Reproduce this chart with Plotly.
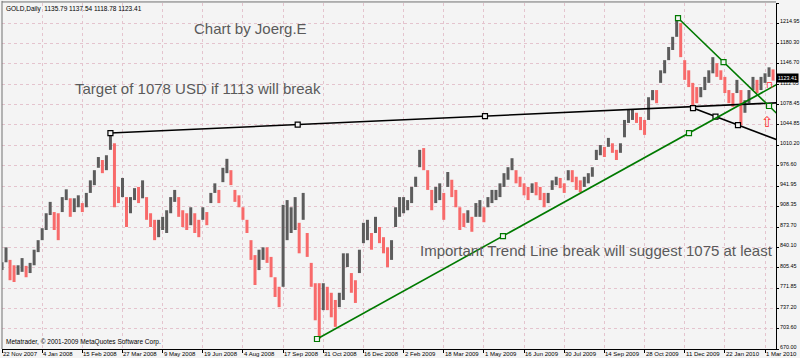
import plotly.graph_objects as go

# ---------------- data ----------------
# one sample per 3 trading sessions, starting 22 Nov 2007
highs = [815, 840, 819, 810, 810, 822, 809, 814, 836, 852,
         872, 897, 916, 899, 897, 924, 937, 922, 922, 927,
         914, 931, 952, 969, 991, 986, 994, 1031, 1014, 941,
         956, 924, 924, 939, 941, 952, 924, 897, 886, 886,
         891, 902, 924, 936, 924, 902, 897, 907, 897, 886,
         907, 899, 931, 947, 936, 973, 988, 969, 936, 927,
         907, 886, 852, 827, 836, 840, 840, 824, 790, 774,
         911, 919, 907, 924, 881, 931, 864, 814, 780, 780,
         780, 774, 764, 752, 764, 830, 830, 797, 785, 836,
         881, 886, 864, 891, 874, 857, 840, 852, 907, 924,
         924, 919, 941, 958, 1003, 1006, 969, 936, 941, 947,
         931, 966, 953, 936, 907, 897, 902, 891, 914, 919,
         907, 924, 936, 936, 947, 964, 974, 989, 969, 958,
         947, 941, 947, 949, 941, 931, 931, 952, 958, 956,
         947, 969, 969, 958, 952, 958, 964, 974, 1003, 1011,
         1008, 1023, 1014, 1003, 1014, 1053, 1070, 1070, 1065, 1058,
         1053, 1091, 1103, 1103, 1136, 1153, 1175, 1192, 1222, 1215,
         1153, 1136, 1115, 1108, 1108, 1125, 1136, 1158, 1148, 1136,
         1125, 1103, 1098, 1120, 1103, 1086, 1103, 1125, 1120, 1125,
         1131, 1141, 1137.54]
lows = [802, 815, 785, 782, 794, 799, 790, 797, 810, 832,
        852, 869, 894, 869, 852, 899, 919, 891, 899, 907,
        899, 907, 931, 944, 973, 964, 969, 1003, 907, 914,
        924, 874, 897, 919, 914, 922, 886, 874, 852, 857,
        869, 864, 897, 916, 891, 874, 869, 877, 864, 857,
        886, 877, 914, 931, 914, 949, 964, 944, 916, 907,
        886, 864, 819, 777, 802, 819, 814, 790, 757, 740,
        774, 852, 864, 869, 830, 886, 824, 774, 718, 687,
        735, 735, 723, 707, 740, 752, 807, 764, 747, 797,
        847, 852, 836, 864, 847, 830, 807, 819, 874, 891,
        897, 902, 914, 941, 974, 969, 936, 902, 914, 919,
        886, 941, 924, 907, 869, 874, 881, 866, 891, 891,
        882, 907, 914, 919, 924, 941, 953, 969, 947, 941,
        927, 919, 931, 927, 919, 907, 914, 936, 944, 939,
        931, 952, 949, 936, 932, 941, 947, 958, 986, 994,
        991, 1008, 998, 986, 998, 1024, 1048, 1053, 1048, 1036,
        1028, 1053, 1086, 1081, 1115, 1131, 1153, 1170, 1192, 1158,
        1120, 1108, 1075, 1081, 1091, 1103, 1115, 1131, 1125, 1120,
        1098, 1081, 1075, 1098, 1044, 1065, 1081, 1103, 1098, 1103,
        1115, 1125, 1118.78]
DAY_STEP = 3

date_labels = ["22 Nov 2007", "4 Jan 2008", "15 Feb 2008", "27 Mar 2008", "9 May 2008",
               "19 Jun 2008", "4 Aug 2008", "17 Sep 2008", "31 Oct 2008", "16 Dec 2008",
               "2 Feb 2009", "18 Mar 2009", "1 May 2009", "16 Jun 2009", "30 Jul 2009",
               "14 Sep 2009", "28 Oct 2009", "11 Dec 2009", "22 Jan 2010", "1 Mar 2010"]
LABEL_STEP = 30  # sessions between date labels

price_ticks = [670.00, 703.60, 737.20, 771.85, 805.45, 840.10, 873.70, 908.35, 941.95,
               976.60, 1010.20, 1044.85, 1078.45, 1112.05, 1146.70, 1180.30, 1214.95, 1248.55]

header_ohlc = [1135.79, 1137.54, 1118.78, 1123.41]
last_price = 1123.41

# trend lines: two anchors (session index, price)
black_main_days = [81, 360.8]
black_main_prices = [1031.1, 1059.5]
green_up_days = [235.3, 513.2]
green_up_prices = [686.7, 1031.1]
green_down_days = [505, 573]
green_down_prices = [1223.4, 1076.3]
black_down_days = [516.2, 549.8]
black_down_prices = [1072.9, 1044.5]

# ---------------- figure ----------------
X_MAX = 578.2
Y_MIN, Y_MAX = 670.0, 1248.55
RED = "#f86a6a"
GREY = "#5c5c5c"
GRID = "#e4c4ce"
TXT = "#5a5a5a"
SMALL = "Liberation Sans Narrow, Liberation Sans, Arial, sans-serif"
BIG = "Liberation Sans, Arial, sans-serif"

days = [i * DAY_STEP for i in range(len(highs))]
opens, closes = [], []
prev = None
for h, l in zip(highs, lows):
    mid = (h + l) / 2
    if prev is None or mid >= prev:
        opens.append(l); closes.append(h)
    else:
        opens.append(h); closes.append(l)
    prev = mid

fig = go.Figure()
fig.add_trace(go.Ohlc(x=days, open=opens, high=highs, low=lows, close=closes,
                      increasing=dict(line=dict(color=GREY, width=3)),
                      decreasing=dict(line=dict(color=RED, width=3)),
                      tickwidth=0, showlegend=False, hoverinfo="skip"))


def add_trend(d, p, color, width):
    slope = (p[1] - p[0]) / (d[1] - d[0])
    xe = X_MAX + 5
    ye = p[0] + slope * (xe - d[0])
    fig.add_trace(go.Scatter(x=[d[0], xe], y=[p[0], ye], mode="lines",
                             line=dict(color=color, width=width),
                             showlegend=False, hoverinfo="skip"))
    md, mp = (d[0] + d[1]) / 2, (p[0] + p[1]) / 2
    fig.add_trace(go.Scatter(x=[d[0], md, d[1]], y=[p[0], mp, p[1]], mode="markers",
                             marker=dict(symbol="square", size=5, color="#f4f4f4",
                                         line=dict(color=color, width=1.2)),
                             showlegend=False, hoverinfo="skip"))


add_trend(black_main_days, black_main_prices, "#000000", 1.6)
add_trend(black_down_days, black_down_prices, "#000000", 1.6)
add_trend(green_up_days, green_up_prices, "#007a00", 1.6)
add_trend(green_down_days, green_down_prices, "#007a00", 1.6)

tickvals = [i * LABEL_STEP for i in range(len(date_labels))]

annotations = []
for tv, lab in zip(tickvals, date_labels):
    annotations.append(dict(x=tv, y=0, xref="x", yref="paper", text=lab, showarrow=False,
                            xanchor="left", yanchor="top", yshift=0, xshift=-1,
                            font=dict(size=6, family=SMALL, color="#000")))

header = "GOLD,Daily  " + " ".join(f"{v:.2f}" for v in header_ohlc)
annotations += [
    dict(x=0.002, y=1, xref="paper", yref="paper", text=header, showarrow=False,
         xanchor="left", yanchor="top", font=dict(size=6.5, family=SMALL, color="#000")),
    dict(x=0.002, y=0.02, xref="paper", yref="paper",
         text="Metatrader, © 2001-2009 MetaQuotes Software Corp.", showarrow=False,
         xanchor="left", yanchor="middle", font=dict(size=6.5, family=SMALL, color="#000")),
    dict(x=0.2455, y=0.9277, xref="paper", yref="paper", text="Chart by Joerg.E",
         showarrow=False, xanchor="left", yanchor="middle",
         font=dict(size=15, family=BIG, color=TXT)),
    dict(x=0.0917, y=0.7543, xref="paper", yref="paper",
         text="Target of 1078 USD if 1113 will break", showarrow=False,
         xanchor="left", yanchor="middle",
         font=dict(size=15, family=BIG, color=TXT)),
    dict(x=0.5375, y=0.2861, xref="paper", yref="paper",
         text="Important Trend Line break will suggest 1075 at least", showarrow=False,
         xanchor="left", yanchor="middle",
         font=dict(size=15, family=BIG, color=TXT)),
    dict(x=1, y=last_price, xref="paper", yref="y", text=f"{last_price:.2f}",
         showarrow=False, xanchor="left", yanchor="middle", bgcolor="#000",
         borderpad=1, xshift=0, font=dict(size=5.4, family=SMALL, color="#fff")),
    dict(x=571.5, y=1049, xref="x", yref="y", text="⇧", showarrow=False,
         font=dict(size=15, family="DejaVu Sans", color="#ff3030")),
    dict(x=573.5, y=1111, xref="x", yref="y", text="⊓", showarrow=False,
         font=dict(size=9, family="DejaVu Sans", color="#ff3030")),
]

fig.update_layout(
    width=800, height=358,
    margin=dict(l=2, r=24, t=3, b=9, pad=0, autoexpand=False),
    paper_bgcolor="#f4f4f4", plot_bgcolor="#f4f4f4",
    showlegend=False,
    annotations=annotations,
    shapes=[
        dict(type="line", xref="paper", yref="paper", x0=0, x1=0, y0=0, y1=1.006,
             line=dict(color="#707070", width=1)),
        dict(type="line", xref="paper", yref="paper", x0=0, x1=1, y0=1.003, y1=1.003,
             line=dict(color="#707070", width=1)),
    ],
    xaxis=dict(range=[0, X_MAX], tickvals=tickvals, showticklabels=False,
               ticks="outside", ticklen=3, tickcolor="#000",
               showgrid=True, gridcolor=GRID, griddash="dot", gridwidth=1,
               showline=True, linecolor="#000", linewidth=1, zeroline=False,
               rangeslider=dict(visible=False), automargin=False, fixedrange=True),
    yaxis=dict(range=[Y_MIN, Y_MAX], side="right", tickvals=price_ticks,
               ticktext=[f"{v:.2f}" for v in price_ticks],
               ticks="outside", ticklen=2, tickcolor="#000", ticklabelshift=-2,
               ticklabelstandoff=0,
               tickfont=dict(size=5.4, family=SMALL, color="#000"),
               showgrid=True, gridcolor=GRID, griddash="dot", gridwidth=1,
               showline=True, linecolor="#000", linewidth=1, zeroline=False,
               automargin=False, fixedrange=True),
)

fig.write_html("out.html", config={"displayModeBar": False, "staticPlot": True},
               post_script="document.body.style.margin='0';document.body.style.padding='0';"
                           "document.body.style.overflow='hidden';")
